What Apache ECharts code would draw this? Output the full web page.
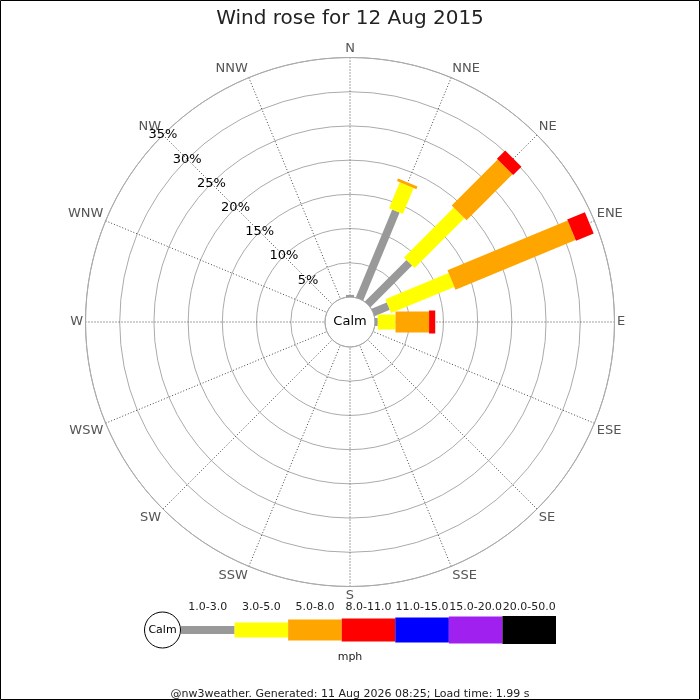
<!DOCTYPE html>
<html>
<head>
<meta charset="utf-8">
<title>Wind rose</title>
<script src="https://cdn.jsdelivr.net/npm/echarts@6/dist/echarts.min.js"></script>
<style>
  html, body { margin: 0; padding: 0; background: #fff; }
  #chart { width: 700px; height: 700px; }
</style>
</head>
<body>
<div id="chart"></div>
<script>
const directions = ['N', 'NNE', 'NE', 'ENE', 'E', 'ESE', 'SE', 'SSE', 'S', 'SSW', 'SW', 'WSW', 'W', 'WNW', 'NW', 'NNW']
const speedBins = ['1.0-3.0', '3.0-5.0', '5.0-8.0', '8.0-11.0', '11.0-15.0', '15.0-20.0', '20.0-50.0']
const binColors = ['#999999', '#ffff00', '#ffa500', '#ff0000', '#0000ff', '#a020f0', '#000000']
// bar thickness in px for each speed bin
const binWidths = [8, 15, 21, 23, 25, 27, 28]

// % of the day, per direction (N clockwise), one array per speed bin
const bin1to3   = [0.3, 13.9, 8.6, 2.4, 0.4, 0, 0, 0, 0, 0, 0, 0, 0, 0, 0, 0]
const bin3to5   = [0, 4.1, 10.3, 10.0, 2.6, 0, 0, 0, 0, 0, 0, 0, 0, 0, 0, 0]
const bin5to8   = [0, 0.4, 9.5, 19.0, 4.9, 0, 0, 0, 0, 0, 0, 0, 0, 0, 0, 0]
const bin8to11  = [0, 0, 1.7, 2.8, 0.9, 0, 0, 0, 0, 0, 0, 0, 0, 0, 0, 0]
const bin11to15 = [0, 0, 0, 0, 0, 0, 0, 0, 0, 0, 0, 0, 0, 0, 0, 0]
const bin15to20 = [0, 0, 0, 0, 0, 0, 0, 0, 0, 0, 0, 0, 0, 0, 0, 0]
const bin20to50 = [0, 0, 0, 0, 0, 0, 0, 0, 0, 0, 0, 0, 0, 0, 0, 0]
const binValues = [bin1to3, bin3to5, bin5to8, bin8to11, bin11to15, bin15to20, bin20to50]

const radiusMax = 35
const radiusStep = 5
const dirStep = 360 / directions.length

const chart = echarts.init(document.getElementById('chart'))

// stack the bins by hand so every bin can have its own thickness
const running = directions.map(() => 0)
const roseSeries = binValues.map((vals, k) => {
  const data = vals.map((v, i) => {
    const start = running[i]
    running[i] += v
    return [i * dirStep, start, running[i]]
  })
  return {
    type: 'custom',
    coordinateSystem: 'polar',
    name: speedBins[k],
    encode: { angle: 0, radius: [1, 2] },
    data,
    renderItem: (params, api) => {
      const a = api.value(0)
      const r0 = api.value(1)
      const r1 = api.value(2)
      if (!(r1 > r0)) return null
      const p0 = api.coord([r0, a])
      const p1 = api.coord([r1, a])
      const dx = p1[0] - p0[0]
      const dy = p1[1] - p0[1]
      const len = Math.sqrt(dx * dx + dy * dy) || 1
      const nx = -dy / len * binWidths[k] / 2
      const ny = dx / len * binWidths[k] / 2
      return {
        type: 'polygon',
        shape: {
          points: [
            [p0[0] + nx, p0[1] + ny],
            [p1[0] + nx, p1[1] + ny],
            [p1[0] - nx, p1[1] - ny],
            [p0[0] - nx, p0[1] - ny]
          ]
        },
        style: { fill: binColors[k] }
      }
    }
  }
})

const keySeries = {
  type: 'custom',
  xAxisIndex: 0,
  yAxisIndex: 0,
  data: speedBins.map((b, i) => [i, 0.5]),
  renderItem: (params, api) => {
    const i = api.value(0)
    const c = api.coord([i, 0.5])
    const w = api.size([1, 0])[0]
    const h = binWidths[i]
    return {
      type: 'rect',
      shape: { x: c[0] - w / 2, y: c[1] - h / 2, width: w, height: h },
      style: { fill: binColors[i] }
    }
  }
}

chart.setOption({
  animation: false,
  textStyle: { fontFamily: 'DejaVu Sans' },
  title: [
    {
      text: 'Wind rose for 12 Aug 2015',
      left: 'center',
      top: 4,
      textStyle: { fontSize: 20, fontWeight: 'normal', color: '#222' }
    },
    {
      text: 'mph',
      left: 'center',
      top: 647,
      textStyle: { fontSize: 11, fontWeight: 'normal', color: '#222' }
    },
    {
      text: '@nw3weather. Generated: 11 Aug 2026 08:25; Load time: 1.99 s',
      left: 'center',
      top: 684,
      textStyle: { fontSize: 11, fontWeight: 'normal', color: '#222' }
    }
  ],
  polar: { center: [350, 322], radius: [25, 264.5] },
  angleAxis: {
    type: 'value',
    min: -2 * dirStep,
    max: 360 - 2 * dirStep,
    interval: dirStep,
    startAngle: 135,
    clockwise: true,
    axisLine: { lineStyle: { color: '#aaa', width: 1 } },
    axisTick: { show: false },
    axisLabel: {
      margin: 2.5,
      fontSize: 13,
      color: '#555',
      formatter: (v) => directions[(Math.round(v / dirStep) + directions.length) % directions.length]
    },
    splitLine: { show: true, lineStyle: { color: '#444', width: 1, type: [1, 2] } }
  },
  radiusAxis: {
    type: 'value',
    min: 0,
    max: radiusMax,
    interval: radiusStep,
    axisLine: { show: false },
    axisTick: { show: false },
    axisLabel: {
      margin: 0,
      align: 'center',
      verticalAlign: 'middle',
      padding: [3, 0, 0, 0],
      fontSize: 13,
      color: '#000',
      formatter: (v) => (v ? v + '%' : '')
    },
    splitLine: { show: true, lineStyle: { color: '#aaa', width: 1 } }
  },
  grid: { left: 181, width: 375, top: 618, height: 24 },
  xAxis: {
    type: 'category',
    data: speedBins,
    position: 'top',
    axisLine: { show: false },
    axisTick: { show: false },
    axisLabel: { interval: 0, margin: 5, fontSize: 11, color: '#222' }
  },
  yAxis: { type: 'value', min: 0, max: 1, show: false },
  graphic: [
    {
      type: 'rect',
      silent: true,
      shape: { x: 0.5, y: 0.5, width: 699, height: 699 },
      style: { fill: 'none', stroke: '#000', lineWidth: 1 }
    },
    {
      type: 'text',
      x: 350,
      y: 322,
      z: 100,
      style: {
        text: 'Calm', fontSize: 13, fill: '#000', fontFamily: 'DejaVu Sans',
        align: 'center', verticalAlign: 'middle'
      }
    },
    {
      type: 'circle',
      shape: { cx: 162.5, cy: 630, r: 18 },
      style: { fill: '#fff', stroke: '#000', lineWidth: 1 }
    },
    {
      type: 'text',
      x: 162.5,
      y: 630,
      style: {
        text: 'Calm', fontSize: 11, fill: '#000', fontFamily: 'DejaVu Sans',
        align: 'center', verticalAlign: 'middle'
      }
    }
  ],
  series: [...roseSeries, keySeries]
})
</script>
</body>
</html>
